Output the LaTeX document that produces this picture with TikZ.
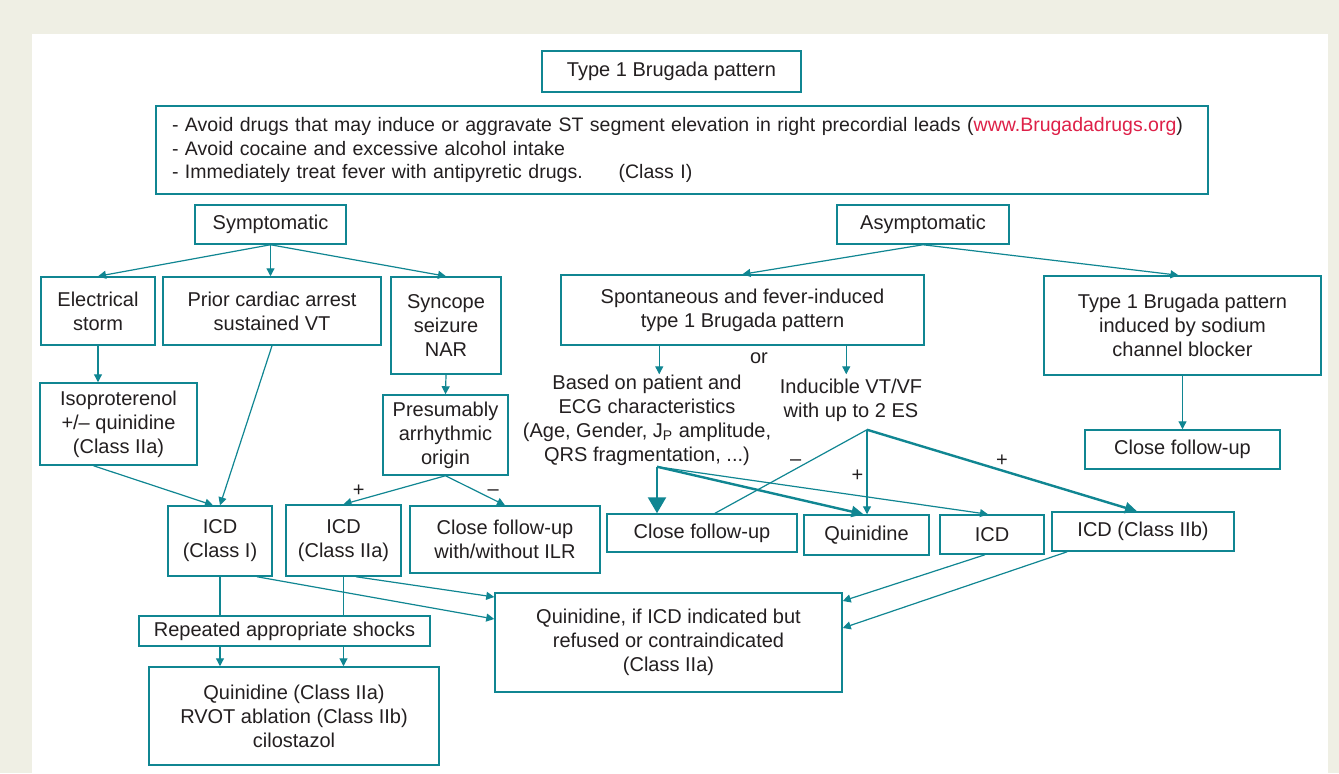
\documentclass[tikz,border=0pt]{standalone}
\usepackage{fontspec}
\setmainfont{Liberation Sans}
\usetikzlibrary{arrows.meta, calc}
\definecolor{brg}{RGB}{16,134,146}
\definecolor{txt}{RGB}{35,31,32}
\definecolor{frame}{RGB}{239,239,228}
\definecolor{web}{RGB}{222,32,72}
\tikzstyle{box} = [rectangle, draw=brg, line width=0.75pt, text=txt, align=center, inner sep=0pt, font=\fontsize{10}{12}\selectfont]
\tikzstyle{note} = [text=txt, align=center, inner sep=0pt, font=\fontsize{10}{12}\selectfont]
\tikzstyle{sign} = [text=txt, inner sep=1.5pt, font=\fontsize{10}{12}\selectfont]
\tikzstyle{plain} = [draw=brg, line width=0.6pt]
\tikzstyle{arrow} = [draw=brg, line width=0.6pt, -{Triangle[length=4pt,width=4pt]}]
\tikzstyle{heavy} = [draw=brg, line width=1.2pt, -{Triangle[length=6pt,width=5.5pt]}]

\begin{document}
\begin{tikzpicture}[x=0.5pt, y=-0.5pt]
	\useasboundingbox (0,0) rectangle (1339,773);
	\fill[frame] (0,0) rectangle (1339,773);
	\fill[white] (32,34) rectangle (1328,773);

	% top
	\node (title) [box, minimum width=129.5pt, minimum height=20.5pt] at (671.5,71.5) {Type 1 Brugada pattern};
	\node (avoid) [box, minimum width=526pt, minimum height=44pt, text width=510pt, align=left, font=\fontsize{9.75}{11.75}\selectfont] at (682,150) {- Avoid drugs that may induce or aggravate ST segment elevation in right precordial leads (\textcolor{web}{www.Brugadadrugs.org})\\- Avoid cocaine and excessive alcohol intake\\- Immediately treat fever with antipyretic drugs.\hspace{18pt}(Class I)};

	% symptomatic
	\node (sym) [box, minimum width=75.5pt, minimum height=19.5pt] at (270.5,224.5) {Symptomatic};
	\node (storm) [box, minimum width=57pt, minimum height=34pt] at (98,311) {Electrical\\storm};
	\node (prior) [box, minimum width=109pt, minimum height=34pt] at (272,311) {Prior cardiac arrest\\sustained VT};
	\node (sync) [box, minimum width=55pt, minimum height=48.5pt] at (446,325.5) {Syncope\\seizure\\NAR};
	\node (iso) [box, minimum width=78.5pt, minimum height=41pt] at (118.5,424) {Isoproterenol\\+/\textendash{} quinidine\\(Class IIa)};
	\node (pres) [box, minimum width=62.5pt, minimum height=40pt] at (445.5,435) {Presumably\\arrhythmic\\origin};
	\node (icdA) [box, minimum width=52pt, minimum height=35pt] at (220,541) {ICD\\(Class I)};
	\node (icdB) [box, minimum width=57.5pt, minimum height=35.5pt] at (343.5,540.5) {ICD\\(Class IIa)};
	\node (cfuL) [box, minimum width=95pt, minimum height=33.5pt] at (505,539.5) {Close follow-up\\with/without ILR};
	\node (shock) [box, minimum width=145.5pt, minimum height=15pt] at (284.5,631) {Repeated appropriate shocks};
	\node (quinR) [box, minimum width=145pt, minimum height=49pt] at (294,716) {Quinidine (Class IIa)\\RVOT ablation (Class IIb)\\cilostazol};
	\node (quinIf) [box, minimum width=173.5pt, minimum height=49.5pt] at (668.5,642.5) {Quinidine, if ICD indicated but\\refused or contraindicated\\(Class IIa)};

	% asymptomatic
	\node (asym) [box, minimum width=86pt, minimum height=19.5pt] at (923,224.5) {Asymptomatic};
	\node (spont) [box, minimum width=181.5pt, minimum height=35pt] at (742.5,310) {Spontaneous and fever-induced\\type 1 Brugada pattern};
	\node (ind) [box, minimum width=138.5pt, minimum height=49.5pt] at (1182.5,325.5) {Type 1 Brugada pattern\\induced by sodium\\channel blocker};
	\node (cfuR) [box, minimum width=97.5pt, minimum height=19.5pt] at (1182.5,449.5) {Close follow-up};
	\node (or) [note] at (759,358) {or};
	\node (based) [note] at (647,420) {Based on patient and\\ECG characteristics\\(Age, Gender, J\textsubscript{P} amplitude,\\QRS fragmentation, ...)};
	\node (induc) [note] at (851,400) {Inducible VT/VF\\with up to 2 ES};
	\node (cfuM) [box, minimum width=95pt, minimum height=19pt] at (702,533) {Close follow-up};
	\node (quinM) [box, minimum width=62.5pt, minimum height=20pt] at (866.5,535) {Quinidine};
	\node (icdM) [box, minimum width=52pt, minimum height=19.5pt] at (992,534.5) {ICD};
	\node (icdC) [box, minimum width=91pt, minimum height=19.5pt] at (1143,531.5) {ICD (Class IIb)};

	% connectors, left side
	\draw[arrow] (sym.south) -- (storm.north);
	\draw[arrow] (sym.south) -- (sym.south |- prior.north);
	\draw[arrow] (sym.south) -- (sync.north);
	\draw[arrow] (storm.south) -- (storm.south |- iso.north);
	\draw[arrow] (prior.south) -- (icdA.north);
	\draw[arrow] ($(iso.south)+(-25,0)$) -- ($(icdA.north)+(-7,0)$);
	\draw[arrow] (sync.south) -- (pres.north);
	\draw[arrow] (pres.south) -- (icdB.north) node[sign, pos=0.85, above] (pA) {+};
	\draw[arrow] (pres.south) -- (cfuL.north) node[sign, pos=0.8, above] (mA) {\textendash};
	\draw[plain] (icdA.south) -- (icdA.south |- shock.north);
	\draw[plain] (icdB.south) -- (icdB.south |- shock.north);
	\draw[arrow] (icdA.south |- shock.south) -- (icdA.south |- quinR.north);
	\draw[arrow] (icdB.south |- shock.south) -- (icdB.south |- quinR.north);
	\draw[arrow] ($(icdA.south)+(37,0)$) -- ($(quinIf.west)+(0,-23.5)$);
	\draw[arrow] ($(icdB.south)+(12.5,0)$) -- ($(quinIf.west)+(0,-45.5)$);
	\draw[arrow] ($(icdM.south)+(-7,0)$) -- ($(quinIf.east)+(0,-41.5)$);
	\draw[arrow] ($(icdC.south west)+(16,0)$) -- ($(quinIf.east)+(0,-14.5)$);

	% connectors, right side
	\draw[arrow] (asym.south) -- (spont.north);
	\draw[arrow] (asym.south) -- ($(ind.north)+(-4,0)$);
	\draw[arrow] (ind.south) -- (cfuR.north);
	\coordinate (orL) at ($(spont.south west)+(99,0)$);
	\coordinate (orR) at ($(spont.south west)+(286,0)$);
	\draw[arrow] (orL) -- (orL |- based.north);
	\draw[arrow] (orR) -- (orR |- based.north);
	\coordinate (bS) at ($(based.south)+(10,1)$);
	\draw[heavy, -{Triangle[length=8pt,width=9pt]}] (bS) -- (bS |- cfuM.north);
	\draw[heavy] (bS) -- ($(quinM.north)+(-3,0)$);
	\draw[arrow] (bS) -- ($(icdM.north)+(-4,0)$);
	\coordinate (iS) at ($(induc.south)+(16,8)$);
	\draw[plain] (iS) -- ($(cfuM.north)+(13,0)$) node[sign, pos=0.47, above] (mB) {\textendash};
	\draw[arrow] (iS) -- (iS |- quinM.north) node[sign, pos=0.55, left] (pB) {+};
	\draw[heavy] (iS) -- ($(icdC.north)+(-6,0)$) node[sign, pos=0.5, above] (pC) {+};
\end{tikzpicture}
\end{document}
